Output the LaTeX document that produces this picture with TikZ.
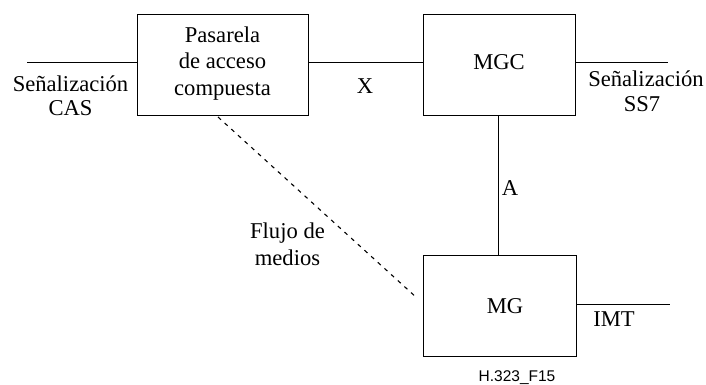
\documentclass[tikz,border=0pt]{standalone}
\usepackage{fontspec}
\setmainfont{Liberation Serif}
\newfontfamily\labsans{Liberation Sans}
\begin{document}
\begin{tikzpicture}[x=1pt,y=-1pt,
  blk/.style={draw,line width=0.9pt,minimum height=101pt,inner sep=0pt},
  ln/.style={line width=0.9pt},
  txt/.style={font=\fontsize{22.6}{26}\selectfont,inner sep=0pt,anchor=base}]
\useasboundingbox (0,0) rectangle (706,385);
\node[blk,minimum width=171pt] (pas) at (222.5,64.5) {};
\node[blk,minimum width=152pt] (mgc) at (499,64.5) {};
\node[blk,minimum width=153pt] (mg) at (499.5,305.5) {};
\node[txt] (p1) at (222.5,42.5) {Pasarela};
\node[txt] (p2) at (222.5,69) {de acceso};
\node[txt] (p3) at (222.5,95.5) {compuesta};
\node[txt] (mgct) at (499,70) {MGC};
\node[txt] (mgt) at (505,313) {MG};
\coordinate (l0) at (27,62.5);
\coordinate (r0) at (668,62.5);
\coordinate (i0) at (670,304);
\draw[ln] (l0) -- (pas.west |- l0);
\draw[ln] (pas.east |- l0) -- (mgc.west |- l0);
\draw[ln] (mgc.east |- r0) -- (r0);
\draw[ln] (mgc.south -| 498,0) -- (mg.north -| 498,0);
\draw[ln] (mg.east |- i0) -- (i0);
\coordinate (d0) at (218,117);
\coordinate (d1) at (417,298);
\draw[line width=1.1pt,dash pattern=on 4pt off 5pt] (d0) -- (d1);
\node[txt] (cas1) at (70.5,92) {Señalización};
\node[txt] (cas2) at (70.5,115) {CAS};
\node[txt] (x) at (365,94) {X};
\node[txt] (ss71) at (646,87) {Señalización};
\node[txt] (ss72) at (642,112) {SS7};
\node[txt] (a) at (510,195) {A};
\node[txt] (fl1) at (287.5,238) {Flujo de};
\node[txt] (fl2) at (287.5,265) {medios};
\node[txt] (imt) at (614,326) {IMT};
\node[font=\labsans\fontsize{15.5}{18}\selectfont,inner sep=0pt,anchor=base] (fig) at (517,381) {H.323\_F15};
\end{tikzpicture}
\end{document}
